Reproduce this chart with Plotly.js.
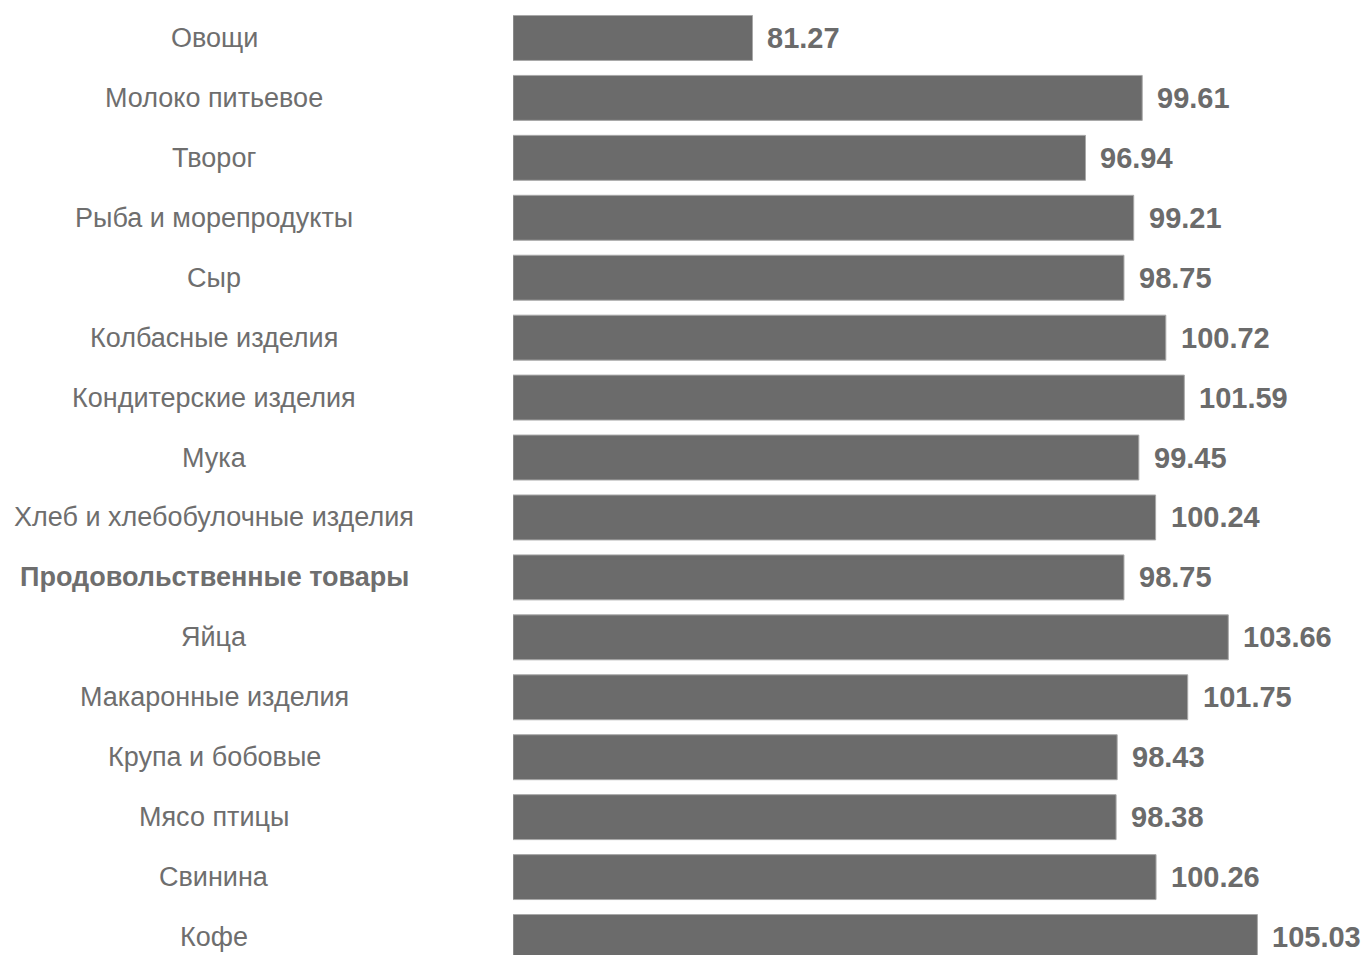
<!DOCTYPE html>
<html>
<head>
<meta charset="utf-8">
<script src="https://cdn.plot.ly/plotly-3.0.1.min.js"></script>
<style>html,body{margin:0;padding:0;background:#fff;}#chart{width:1366px;height:955px;}</style>
</head>
<body>
<div id="chart"></div>
<script>
var categories = [
  "Овощи",
  "Молоко питьевое",
  "Творог",
  "Рыба и морепродукты",
  "Сыр",
  "Колбасные изделия",
  "Кондитерские изделия",
  "Мука",
  "Хлеб и хлебобулочные изделия",
  "Продовольственные товары",
  "Яйца",
  "Макаронные изделия",
  "Крупа и бобовые",
  "Мясо птицы",
  "Свинина",
  "Кофе"
];
var values = [81.27, 99.61, 96.94, 99.21, 98.75, 100.72, 101.59, 99.45, 100.24, 98.75, 103.66, 101.75, 98.43, 98.38, 100.26, 105.03];
var highlight = "Продовольственные товары";

var FONT = "'Liberation Sans', Arimo, Arial, sans-serif";
var BAR = "#6b6b6b";

var annotations = [];
categories.forEach(function (c, i) {
  annotations.push({
    xref: "paper", yref: "y",
    x: -0.3505, y: c,
    xanchor: "center", yanchor: "middle",
    text: c === highlight ? "<b>" + c + "</b>" : c,
    showarrow: false,
    font: {family: FONT, size: 27, color: "#6e6e6e"}
  });
  annotations.push({
    xref: "x", yref: "y",
    x: values[i], y: c,
    xanchor: "left", yanchor: "middle",
    xshift: 13,
    text: "<b>" + values[i].toFixed(2) + "</b>",
    showarrow: false,
    font: {family: FONT, size: 29, color: BAR}
  });
});

var trace = {
  type: "bar",
  orientation: "h",
  x: values.map(function (v) { return v - 70; }),
  y: categories,
  base: 70,
  width: 0.75,
  marker: {color: BAR, line: {color: "#a8a8a8", width: 1}},
  hoverinfo: "x+y"
};

var layout = {
  width: 1366, height: 955,
  margin: {l: 513, r: 0, t: 8, b: 0, pad: 0},
  paper_bgcolor: "#ffffff", plot_bgcolor: "#ffffff",
  showlegend: false,
  font: {family: FONT},
  xaxis: {range: [70, 110.14], showgrid: false, zeroline: false, showticklabels: false, ticks: "", showline: false, fixedrange: true},
  yaxis: {type: "category", range: [15.3, -0.5], showgrid: false, zeroline: false, showticklabels: false, ticks: "", showline: false, fixedrange: true},
  annotations: annotations
};

Plotly.newPlot("chart", [trace], layout, {displayModeBar: false, staticPlot: true});
</script>
</body>
</html>
